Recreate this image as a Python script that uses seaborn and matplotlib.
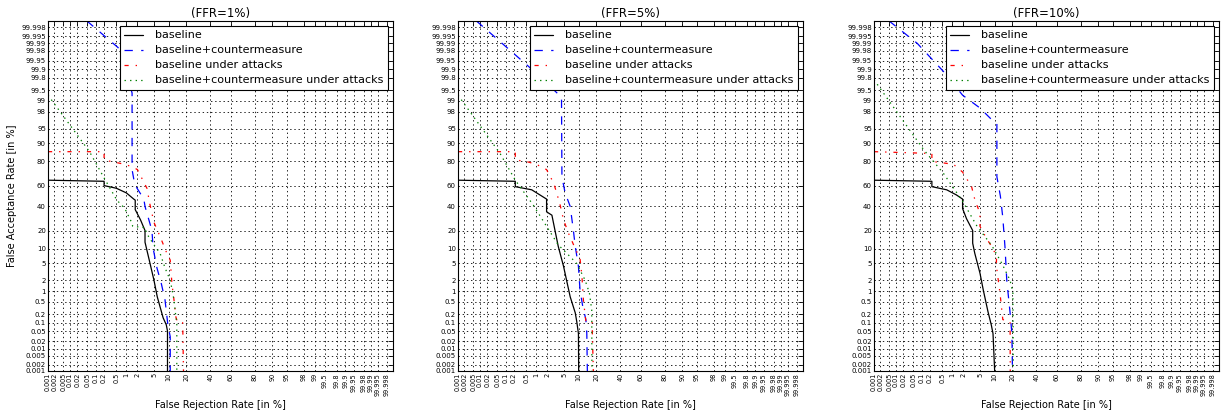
import matplotlib
matplotlib.use('Agg')
import matplotlib.pyplot as plt
import seaborn as sns
from statistics import NormalDist

# 數值單位都是 %，從圖上讀出來的 (FRR, FAR)
tick_pct = [0.001, 0.002, 0.005, 0.01, 0.02, 0.05, 0.1, 0.2, 0.5, 1, 2, 5, 10, 20, 40, 60,
            80, 90, 95, 98, 99, 99.5, 99.8, 99.9, 99.95, 99.98, 99.99, 99.995, 99.998]
tick_labels = ['0.001', '0.002', '0.005', '0.01', '0.02', '0.05', '0.1', '0.2', '0.5', '1', '2',
               '5', '10', '20', '40', '60', '80', '90', '95', '98', '99', '99.5', '99.8', '99.9',
               '99.95', '99.98', '99.99', '99.995', '99.998']

series_names = ['baseline', 'baseline+countermeasure', 'baseline under attacks',
                'baseline+countermeasure under attacks']
titles = ['(FFR=1%)', '(FFR=5%)', '(FFR=10%)']

# --- FFR = 1% ---
frr_base_1 = [0.001, 0.2, 0.2, 0.5, 1.0, 1.6, 1.75, 1.75, 2.4, 3.1, 3.1, 4.0, 5.0, 5.9, 7.8, 9.0, 9.5, 9.5]
far_base_1 = [65, 64, 60, 57.5, 53, 47, 46, 37, 28, 20, 13, 5.4, 2, 0.7, 0.15, 0.085, 0.05, 0.001]
frr_cm_1 = [0.048, 0.57, 1.44, 1.44, 1.7, 2.9, 3.1, 4.5, 4.8, 5.8, 7.2, 8.5, 9.7, 10.7, 10.7]
far_cm_1 = [99.999, 99.985, 99.4, 74, 61, 47, 40, 20, 10, 4, 1.6, 0.57, 0.08, 0.03, 0.001]
frr_att_1 = [0.001, 0.2, 0.2, 0.9, 1.5, 2.0, 3.6, 3.8, 5.0, 6.8, 9.3, 10.7, 11.5, 12.5, 13.5, 14.5, 17.5, 18.0]
far_att_1 = [86, 86, 81, 78, 76, 74, 56, 47, 26, 16, 8, 5.9, 1.6, 0.57, 0.16, 0.1, 0.1, 0.001]
frr_cmatt_1 = [0.001, 0.06, 0.2, 0.52, 0.9, 1.4, 1.5, 3.1, 3.4, 4.9, 6.8, 8.5, 10.7, 12.5, 13.5, 14.0, 14.0]
far_cmatt_1 = [99.3, 86, 67, 46, 38, 26, 23, 22, 18, 12, 8, 4, 2, 0.57, 0.16, 0.1, 0.001]

# --- FFR = 5% ---
frr_base_5 = [0.001, 0.22, 0.22, 0.73, 1.9, 1.9, 2.6, 3.1, 3.7, 4.9, 5.7, 6.8, 8.6, 9.2, 9.9, 10.0]
far_base_5 = [65, 64, 59, 56, 47, 35, 32, 20, 11, 4.3, 2, 0.7, 0.22, 0.11, 0.04, 0.001]
frr_cm_5 = [0.007, 0.73, 4.4, 4.5, 5.3, 6.8, 7.9, 8.6, 9.9, 10.6, 11.9, 13.5, 14.0, 14.3]
far_cm_5 = [99.999, 99.9, 99.2, 68, 53, 40, 20, 11, 4.3, 1.1, 0.35, 0.13, 0.04, 0.001]
frr_att_5 = [0.001, 0.22, 0.22, 0.5, 1.0, 1.9, 2.9, 4.0, 4.9, 6.3, 8.6, 10.6, 11.5, 12.2, 13.5, 17.1, 17.9]
far_att_5 = [86, 86, 81, 80, 78, 74, 62, 43, 28, 18, 10, 6.4, 2.5, 0.57, 0.11, 0.11, 0.001]
frr_cmatt_5 = [0.001, 0.063, 0.22, 0.82, 1.9, 3.7, 5.7, 9.2, 13.1, 15.5, 16.9, 17.0]
far_cmatt_5 = [99.3, 85, 65, 41, 23, 11.7, 8.2, 5, 2, 0.9, 0.27, 0.001]

# --- FFR = 10% ---
frr_base_10 = [0.001, 0.23, 0.23, 0.68, 1.3, 1.9, 1.9, 2.4, 3.4, 3.4, 3.8, 5.0, 5.9, 7.4, 8.6, 9.3, 10.0]
far_base_10 = [65, 64, 59, 56, 51, 47, 38, 29, 20, 12.5, 8.2, 3, 1.1, 0.24, 0.085, 0.04, 0.001]
frr_cm_10 = [0.005, 0.07, 0.54, 1.9, 5.0, 8.9, 11.0, 11.0, 12.7, 14.0, 15.3, 16.3, 18.4, 19.6, 20.0]
far_cm_10 = [99.999, 99.99, 99.88, 99.3, 98.4, 96.8, 96.2, 68, 50, 30, 10, 2, 0.22, 0.04, 0.001]
frr_att_10 = [0.001, 0.23, 0.23, 0.54, 1.07, 1.9, 3.2, 3.9, 5.0, 5.0, 6.9, 9.3, 10.8, 10.8, 12.5, 14.0, 18.4, 18.5]
far_att_10 = [86, 85, 80, 79, 78, 72, 59, 45, 34, 23, 15, 10, 7, 4.3, 0.9, 0.13, 0.11, 0.001]
frr_cmatt_10 = [0.001, 0.12, 0.54, 1.9, 4.3, 8.9, 13.5, 18.4, 20.3, 20.6]
far_cmatt_10 = [99.77, 87, 71, 45, 23, 11.2, 5, 2, 0.9, 0.001]

panels = [
    [(frr_base_1, far_base_1), (frr_cm_1, far_cm_1), (frr_att_1, far_att_1), (frr_cmatt_1, far_cmatt_1)],
    [(frr_base_5, far_base_5), (frr_cm_5, far_cm_5), (frr_att_5, far_att_5), (frr_cmatt_5, far_cmatt_5)],
    [(frr_base_10, far_base_10), (frr_cm_10, far_cm_10), (frr_att_10, far_att_10), (frr_cmatt_10, far_cmatt_10)],
]

sns.set_theme(style='white')
plt.rcParams['font.family'] = ['DejaVu Sans']
# 文字都用純黑
plt.rcParams['text.color'] = 'black'
plt.rcParams['axes.labelcolor'] = 'black'
plt.rcParams['xtick.color'] = 'black'
plt.rcParams['ytick.color'] = 'black'
# 舊版 matplotlib 的虛線樣式
plt.rcParams['lines.scale_dashes'] = False
plt.rcParams['lines.dashed_pattern'] = [6, 6]
plt.rcParams['lines.dashdot_pattern'] = [3, 5, 1, 5]
plt.rcParams['lines.dotted_pattern'] = [1, 3]

colors = ['black', 'blue', 'red', 'green']
styles = ['-', '--', '-.', ':']

nd = NormalDist()


def ppnd(vals):
    # 百分比 -> 常態分位數 (DET 軸)
    return [nd.inv_cdf(v / 100.0) for v in vals]


lim = nd.inv_cdf(0.99999)
ticks = ppnd(tick_pct)

fig = plt.figure(figsize=(12.27, 4.13), dpi=100)
lefts = [48 / 1227, 458 / 1227, 874 / 1227]

for i, series in enumerate(panels):
    ax = fig.add_axes([lefts[i], 42 / 413, 345 / 1227, 350 / 413])
    for j, (frr, far) in enumerate(series):
        sns.lineplot(x=ppnd(frr), y=ppnd(far), sort=False, estimator=None,
                     color=colors[j], linestyle=styles[j], linewidth=0.9,
                     label=series_names[j], ax=ax)
    ax.set_xlim(-lim, lim)
    ax.set_ylim(-lim, lim)
    ax.set_xticks(ticks)
    ax.set_xticklabels(tick_labels, rotation=90, fontsize=4.7)
    ax.set_yticks(ticks)
    ax.set_yticklabels(tick_labels, fontsize=5)
    ax.tick_params(direction='in', length=3.5, width=0.6, top=True, right=True, pad=1.5)
    ax.grid(True, color='black', linestyle=(0, (1, 2)), linewidth=0.6)
    for sp in ax.spines.values():
        sp.set_color('black')
        sp.set_linewidth(0.8)
    ax.set_title(titles[i], fontsize=8.5, pad=3)
    ax.set_xlabel('False Rejection Rate [in %]', fontsize=7, labelpad=3)
    if i == 0:
        ax.set_ylabel('False Acceptance Rate [in %]', fontsize=7, labelpad=3)
    leg = ax.legend(loc='upper right', fontsize=8, fancybox=False, framealpha=1,
                    edgecolor='black', handlelength=1.7, handletextpad=1.1,
                    borderaxespad=0.45, labelspacing=0.45)
    leg.get_frame().set_linewidth(0.8)

fig.savefig('out.png', dpi=100)
